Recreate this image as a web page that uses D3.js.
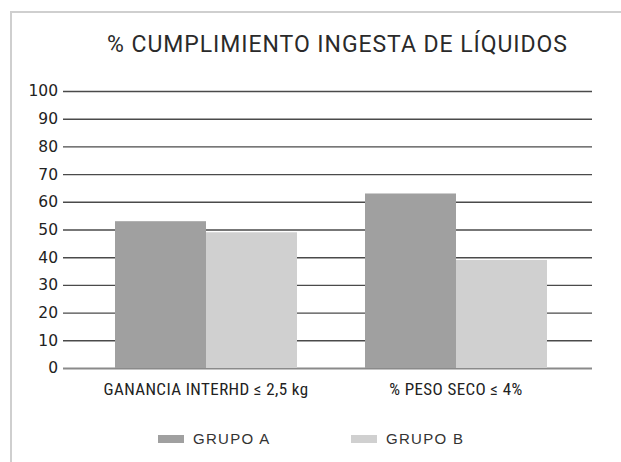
<!DOCTYPE html>
<html><head><meta charset="utf-8">
<script src="https://cdn.jsdelivr.net/npm/d3@7"></script>
<style>
body{margin:0;background:#fff;}
svg{display:block;}
</style></head>
<body>
<svg id="chart" width="621" height="462"></svg>
<script>
const title = "% CUMPLIMIENTO INGESTA DE LÍQUIDOS";
const categories = ["GANANCIA INTERHD ≤ 2,5 kg", "% PESO SECO ≤ 4%"];
const seriesNames = ["GRUPO A", "GRUPO B"];
const grupoA = [53, 63];
const grupoB = [49, 39];
const yTicks = [0,10,20,30,40,50,60,70,80,90,100];
const colors = ["#a0a0a0", "#d0d0d0"];

const svg = d3.select("#chart");
const narrow = "'Liberation Sans Narrow','Roboto Condensed','Arial Narrow',sans-serif";

// border
svg.append("path").attr("d","M11,462 V12 H621").attr("fill","none").attr("stroke","#cfcfcf").attr("stroke-width",2);

svg.append("text").attr("x",337).attr("y",52).attr("text-anchor","middle")
  .attr("font-family","Roboto,sans-serif").attr("font-size",23).attr("font-weight",400)
  .attr("textLength",460).attr("lengthAdjust","spacing")
  .attr("fill","#2a2a2a").text(title);

const y = d3.scaleLinear().domain([0,100]).range([368,91]);
const x0 = d3.scaleBand().domain(categories).range([81,581]).paddingInner(0.272).paddingOuter(0.136);
const x1 = d3.scaleBand().domain(seriesNames).range([0,x0.bandwidth()]);

// gridlines
const gAxis = svg.append("g").attr("transform","translate(63,0)")
  .call(d3.axisRight(y).tickValues(yTicks).tickSize(529).tickFormat(""));
gAxis.select(".domain").remove();
gAxis.selectAll(".tick line").attr("stroke", d => d===0 ? "#8a8a8a" : "#4a4a4a").attr("stroke-width", d => d===0 ? 2 : 1.4);

// labels
const yl = svg.append("g").attr("transform","translate(58,0)")
  .call(d3.axisLeft(y).tickValues(yTicks).tickSize(0).tickPadding(0));
yl.select(".domain").remove();
yl.selectAll("text").attr("font-family","'DejaVu Sans',sans-serif").attr("font-size",15.5).attr("fill","#222");

const data = categories.map((c,i)=>({cat:c, vals:[grupoA[i], grupoB[i]]}));
const groups = svg.append("g").selectAll("g").data(data).join("g")
  .attr("transform", d=>`translate(${x0(d.cat)},0)`);
groups.selectAll("rect").data(d=>d.vals.map((v,j)=>({s:seriesNames[j], v, j})))
  .join("rect")
  .attr("x", d=>x1(d.s)).attr("width", x1.bandwidth())
  .attr("y", d=>y(d.v)).attr("height", d=>y(0)-y(d.v))
  .attr("fill", d=>colors[d.j]);

// category labels
const xa = svg.append("g").attr("transform","translate(0,376)")
  .call(d3.axisBottom(x0).tickSize(0).tickPadding(0));
xa.select(".domain").remove();
xa.selectAll("text").attr("font-family",narrow).attr("font-size",17).attr("letter-spacing",0.4).attr("fill","#222").attr("dy","1.1em");

// legend
const legX = [158, 351];
const leg = svg.append("g").selectAll("g").data(seriesNames).join("g")
  .attr("transform",(d,i)=>`translate(${legX[i]},435)`);
leg.append("rect").attr("width",26).attr("height",8).attr("fill",(d,i)=>colors[i]);
leg.append("text").attr("x",35).attr("y",8.5).attr("font-family","'Liberation Sans',Arial,sans-serif")
  .attr("font-size",15).attr("letter-spacing",1.3).attr("fill","#333").text(d=>d);
</script>
</body></html>
